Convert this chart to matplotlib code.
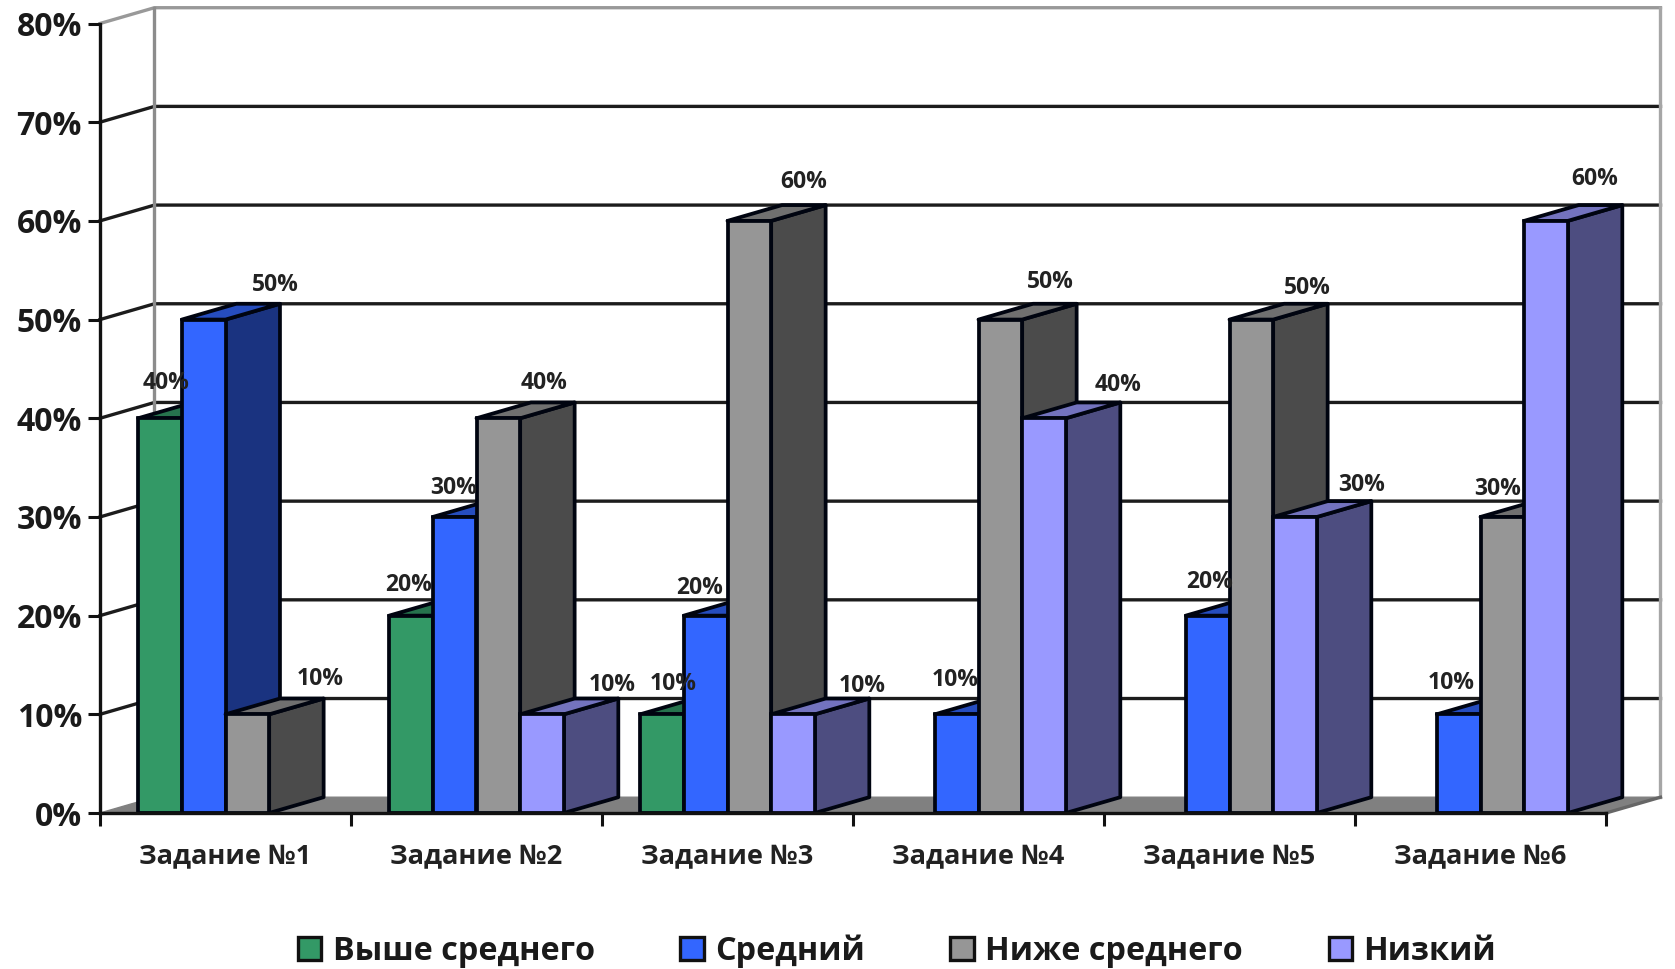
# coding: utf-8

# Объёмная гистограмма по заданиям
import matplotlib
matplotlib.use("Agg")
import matplotlib.pyplot as plt
from matplotlib.patches import Patch

plt.rcParams['font.family'] = ['Open Sans', 'DejaVu Sans']

tasks = ["Задание №1", "Задание №2", "Задание №3", "Задание №4", "Задание №5", "Задание №6"]
levels = ["Выше среднего", "Средний", "Ниже среднего", "Низкий"]
above_avg = [40, 20, 10, 0, 0, 0]
average = [50, 30, 20, 10, 20, 10]
below_avg = [10, 40, 60, 50, 50, 30]
low = [0, 10, 10, 40, 30, 60]
y_ticks = [0, 10, 20, 30, 40, 50, 60, 70, 80]

front_colors = ["#339966", "#3366FF", "#969696", "#9999FF"]
top_colors = ["#26734D", "#264DBF", "#707070", "#7373BF"]
side_colors = ["#1A4D33", "#1A3380", "#4B4B4B", "#4D4D80"]

# сдвиг подписей от центра столбика (пиксели), по заданиям и рядам
nudges = [
    [(6, 35), (72, 35), (73, 35), None],
    [(-2, 31), (-1, 29), (46, 35), (70, 29)],
    [(11, 30), (-6, 28), (54, 39), (69, 28)],
    [None, (-1, 34), (50, 38), (74, 33)],
    [None, (2, 34), (56, 32), (67, 32)],
    [None, (-7, 31), (-5, 28), (49, 42)],
]

W, H = 1675, 969
fig = plt.figure(figsize=(W / 100, H / 100), dpi=100)
ax = fig.add_axes([100 / W, (H - 813) / H, (1606 - 100) / W, (813 - 23.5) / H])
ax.set_xlim(0, 6)
ax.set_ylim(0, 80)

# глубина 3D и ширина столбика
dx, dy = 0.217, 1.6
bar_w = 0.174
pad = 0.152
lw = 2.7
edge = "#000410"

# пол
ax.fill([0, 6, 6 + dx, dx], [0, 0, dy, dy], color="#808080", zorder=1, clip_on=False)

# сетка и задняя стенка
for v in y_ticks[1:]:
    c = "#999999" if v == 80 else "#1c1c1c"
    ax.plot([0, dx, 6 + dx], [v, v + dy, v + dy], color=c, lw=2.4, zorder=1.5, clip_on=False,
            solid_joinstyle="miter")
ax.plot([dx, dx], [dy, 80 + dy], color="#8c8c8c", lw=2.4, zorder=1.6, clip_on=False)
ax.plot([6 + dx, 6 + dx], [dy, 80 + dy], color="#a6a6a6", lw=2.4, zorder=1.6, clip_on=False)
ax.plot([6, 6 + dx], [0, dy], color="#666666", lw=2.4, zorder=1.6, clip_on=False)

# столбики: слева направо, следующий закрывает бок предыдущего
z = 3
series = [above_avg, average, below_avg, low]
for i in range(len(tasks)):
    for j, vals in enumerate(series):
        v = vals[i]
        if v == 0:
            continue
        x0 = i + pad + j * bar_w
        x1 = x0 + bar_w
        ax.fill([x1, x1 + dx, x1 + dx, x1], [0, dy, v + dy, v], facecolor=side_colors[j],
                edgecolor=edge, lw=lw, zorder=z, clip_on=False, joinstyle="round")
        ax.fill([x0, x1, x1 + dx, x0 + dx], [v, v, v + dy, v + dy], facecolor=top_colors[j],
                edgecolor=edge, lw=lw, zorder=z, clip_on=False, joinstyle="round")
        ax.bar(x0, v, width=bar_w, align="edge", color=front_colors[j], edgecolor=edge,
               linewidth=lw, zorder=z + 0.1, clip_on=False)
        z += 1

# подписи значений
for i in range(len(tasks)):
    for j, vals in enumerate(series):
        if vals[i] == 0:
            continue
        ax.annotate(f"{vals[i]}%", xy=(i + pad + (j + 0.5) * bar_w, vals[i]),
                    xytext=nudges[i][j], textcoords="offset pixels", ha="center", va="center",
                    fontsize=16.5, fontweight="bold", color="#222222", zorder=100,
                    annotation_clip=False)

# оси
for s in ["top", "right"]:
    ax.spines[s].set_visible(False)
for s in ["left", "bottom"]:
    ax.spines[s].set_linewidth(2.4)
    ax.spines[s].set_color("#111111")
    ax.spines[s].set_zorder(50)
ax.set_yticks(y_ticks)
ax.set_yticklabels([f"{v}%" for v in y_ticks], fontsize=23, fontweight="bold", color="#1a1a1a")
ax.set_xticks(range(7))
ax.set_xticklabels([])
ax.set_xticks([i + 0.5 for i in range(6)], minor=True)
ax.set_xticklabels(tasks, minor=True, fontsize=19.5, fontweight="bold", color="#222222")
ax.tick_params(axis="y", length=9, width=2.2, pad=4, color="#111111")
ax.tick_params(axis="x", which="major", length=9, width=2.2, color="#111111")
ax.tick_params(axis="x", which="minor", length=0, pad=22.5)

handles = [Patch(facecolor=c, edgecolor="#111111", linewidth=2.4) for c in front_colors]
fig.legend(handles, levels, loc="center", bbox_to_anchor=(897 / W, 1 - 951 / H), ncol=4, frameon=False,
           prop={"size": 23.3, "weight": "bold"}, handlelength=0.73, handleheight=0.73,
           handletextpad=0.35, columnspacing=2.64, labelcolor="#1a1a1a")

fig.savefig("out.png", dpi=100, facecolor="white")
